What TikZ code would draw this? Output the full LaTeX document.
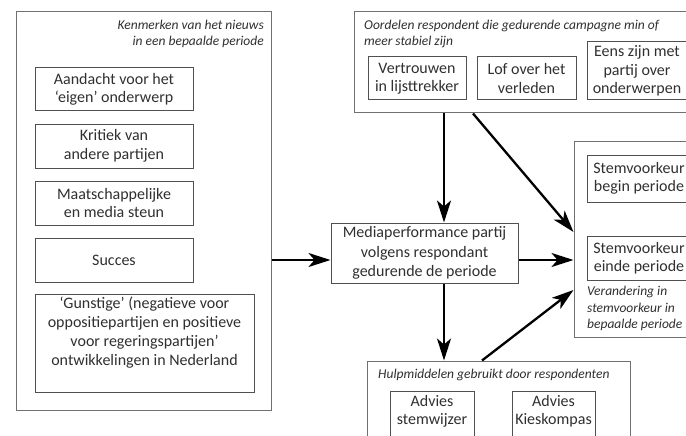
\documentclass[tikz,border=0pt]{standalone}
\usepackage{fontspec}
\setmainfont{Carlito}
\usetikzlibrary{arrows.meta,calc}
\definecolor{boxgray}{HTML}{505050}
\definecolor{outgray}{HTML}{707070}
\definecolor{txt}{HTML}{303030}
\begin{document}
\begin{tikzpicture}[x=1pt,y=-1pt,
  box/.style={draw=boxgray,line width=1pt,inner sep=0pt,text=txt,align=center,
    font=\fontsize{16}{18.5}\selectfont},
  outer/.style={draw=outgray,line width=1pt,inner sep=0pt},
  ttl/.style={inner sep=0pt,text=txt,font=\itshape\fontsize{13.5}{16}\selectfont},
  arr/.style={draw=black,line width=2.3pt,-{Stealth[length=22pt,width=14pt,inset=6pt]}}]
\fill[white] (0,0) rectangle (686,436);
\useasboundingbox (0,0) rectangle (686,436);
\clip (0,0) rectangle (686,436);

% left block
\node[outer,minimum width=255,minimum height=398] (kenm) at (143.5,211) {};
\node[ttl,anchor=north east,align=right] (kt) at (264,20) {Kenmerken van het nieuws\\in een bepaalde periode};
\node[box,minimum width=158,minimum height=43] (a1) at (114,89.5) {Aandacht voor het\\‘eigen’ onderwerp};
\node[box,minimum width=158,minimum height=44] (a2) at (114,146) {Kritiek van\\andere partijen};
\node[box,minimum width=158,minimum height=44] (a3) at (114,203) {Maatschappelijke\\en media steun};
\node[box,minimum width=158,minimum height=44] (a4) at (114,260) {Succes};
\node[box,minimum width=219,minimum height=98] (a5) at (144.5,343) {};
\node[inner sep=0pt,text=txt,align=center,font=\fontsize{16}{19}\selectfont,anchor=north] (a5t) at (144.5,297)
  {‘Gunstige’ (negatieve voor\\oppositiepartijen en positieve\\voor regeringspartijen’\\ontwikkelingen in Nederland};

% top block
\node[outer,minimum width=340,minimum height=101] (top) at (524,62.5) {};
\node[ttl,anchor=north west,align=left] (tt) at (364,20) {Oordelen respondent die gedurende campagne min of\\meer stabiel zijn};
\node[box,minimum width=98,minimum height=43] (v1) at (417,78.5) {Vertrouwen\\in lijsttrekker};
\node[box,minimum width=99,minimum height=43] (v2) at (526.5,78.5) {Lof over het\\verleden};
\node[box,minimum width=100,minimum height=58] (v3) at (637,71) {Eens zijn met\\partij over\\onderwerpen};

% middle
\node[box,minimum width=187,minimum height=60,font=\fontsize{16}{19.5}\selectfont] (mid) at (424.5,253) {Mediaperformance partij\\volgens respondant\\gedurende de periode};

% right block
\node[outer,minimum width=130,minimum height=196] (rbox) at (639,239) {};
\node[box,minimum width=104,minimum height=47] (s1) at (639,178.5) {Stemvoorkeur\\begin periode};
\node[box,minimum width=104,minimum height=44] (s2) at (639,258) {Stemvoorkeur\\einde periode};
\node[ttl,anchor=north west,align=left,font=\itshape\fontsize{13.5}{16.5}\selectfont] (rt) at (587,286) {Verandering in\\stemvoorkeur in\\bepaalde periode};

% bottom block
\node[outer,minimum width=263,minimum height=100] (bot) at (498.5,411) {};
\node[ttl,anchor=north west,align=left] (bt) at (378,369) {Hulpmiddelen gebruikt door respondenten};
\node[box,minimum width=84,minimum height=60,anchor=north] (h1) at (432,391) {};
\node[box,minimum width=83,minimum height=60,anchor=north] (h2) at (553.5,391) {};
\node[inner sep=0pt,text=txt,align=center,font=\fontsize{16}{18}\selectfont,anchor=north] (h1t) at (432,395) {Advies\\stemwijzer};
\node[inner sep=0pt,text=txt,align=center,font=\fontsize{16}{18}\selectfont,anchor=north] (h2t) at (553.5,395) {Advies\\Kieskompas};

% connectors
\coordinate (yA) at (0,260);
\coordinate (yB) at (0,232);
\coordinate (yC) at (0,290);
\coordinate (xA) at (444,0);
\coordinate (xB) at (473,0);
\coordinate (xC) at (482,0);
\draw[arr] (kenm.east |- yA) -- (mid.west |- yA);
\draw[arr] (mid.east |- yA) -- (rbox.west |- yA);
\draw[arr] (top.south -| xA) -- (mid.north -| xA);
\draw[arr] (top.south -| xB) -- (rbox.west |- yB);
\draw[arr] (mid.south -| xA) -- (bot.north -| xA);
\draw[arr] (bot.north -| xC) -- (rbox.west |- yC);
\end{tikzpicture}
\end{document}
